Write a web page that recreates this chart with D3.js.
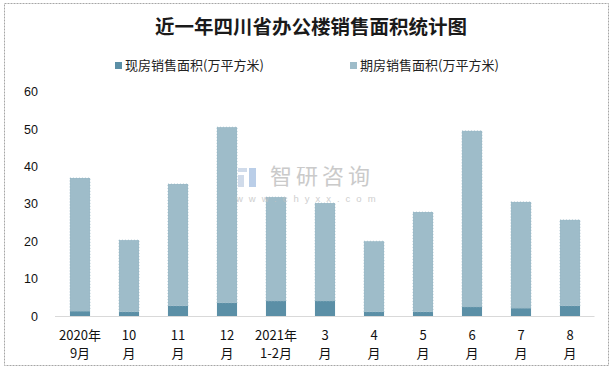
<!DOCTYPE html>
<html>
<head>
<meta charset="utf-8">
<script src="https://cdn.jsdelivr.net/npm/d3@7"></script>
<style>
  body { margin: 0; background: #fff; }
  svg { display: block; font-family: "Liberation Sans", "Noto Sans CJK SC", sans-serif; }
</style>
</head>
<body>
<svg id="svg" width="614" height="370"></svg>
<script>
// chart data
const categories = ["2020年9月", "10月", "11月", "12月", "2021年1-2月", "3月", "4月", "5月", "6月", "7月", "8月"]
const labelLines = [["2020年", "9月"], ["10", "月"], ["11", "月"], ["12", "月"], ["2021年", "1-2月"],
    ["3", "月"], ["4", "月"], ["5", "月"], ["6", "月"], ["7", "月"], ["8", "月"]]
const currentArea = [1.3, 1.1, 2.7, 3.5, 4.0, 4.0, 1.1, 1.1, 2.4, 2.1, 2.7]      // 现房
const futureArea = [35.6, 19.2, 32.6, 47.0, 27.8, 26.2, 18.9, 26.7, 47.1, 28.4, 23.0] // 期房
const yTicks = [0, 10, 20, 30, 40, 50, 60]
const seriesNames = ["现房销售面积(万平方米)", "期房销售面积(万平方米)"]
const colors = ["#5b8fa6", "#9ebcc9"]

const svg = d3.select("#svg")
const cjk = "'Noto Sans CJK SC', sans-serif"

// outer frame
svg.append("rect")
    .attr("x", 4.5).attr("y", 3.5).attr("width", 604).attr("height", 362)
    .attr("fill", "none").attr("stroke", "#a6a6a6").attr("stroke-dasharray", "2,1")

// title
svg.append("text")
    .attr("x", 311).attr("y", 27).attr("dy", "0.35em")
    .attr("text-anchor", "middle")
    .style("font-family", cjk).style("font-weight", "bold").style("font-size", "19.5px")
    .attr("fill", "#1a1a1a")
    .text("近一年四川省办公楼销售面积统计图")

// legend
const legendX = [115, 350]
seriesNames.forEach(function (name, i) {
    svg.append("rect").attr("x", legendX[i]).attr("y", 62).attr("width", 7).attr("height", 7).attr("fill", colors[i])
    svg.append("text")
        .attr("x", legendX[i] + 10).attr("y", 65.5).attr("dy", "0.35em")
        .style("font-family", cjk).style("font-size", "13px").attr("fill", "#222")
        .text(name)
})

// scales
const x = d3.scaleBand().domain(categories).range([55.5, 594.5]).paddingInner(0.59).paddingOuter(0.295)
const y = d3.scaleLinear().domain([0, 60]).range([316, 91.6])

// y tick labels (no axis line, no gridlines)
const yAxis = svg.append("g")
    .attr("transform", "translate(40,0)")
    .call(d3.axisLeft(y).tickValues(yTicks).tickSize(0).tickPadding(2))
yAxis.select(".domain").remove()
yAxis.selectAll("text").style("font-size", "12.5px").style("font-family", "'Liberation Sans', sans-serif").attr("fill", "#111")

// stacked bars
const stacked = d3.stack().keys([0, 1])(categories.map(function (c, i) { return [currentArea[i], futureArea[i]] }))
stacked.forEach(function (layer, k) {
    svg.append("g").selectAll("rect")
        .data(layer)
        .enter().append("rect")
        .attr("x", function (d, i) { return x(categories[i]) })
        .attr("width", x.bandwidth())
        .attr("y", function (d) { return y(d[1]) })
        .attr("height", function (d) { return y(d[0]) - y(d[1]) })
        .attr("fill", colors[k])
        .attr("stroke", k == 1 ? "#8fb0bf" : "none")
        .attr("stroke-width", 0.6)
        .attr("stroke-dasharray", "1,2")
})

// watermark, sits over the bars
const wm = svg.append("g").attr("opacity", 0.8)
wm.append("rect").attr("x", 238).attr("y", 168).attr("width", 9).attr("height", 4).attr("fill", "#c5d3e6")
wm.append("rect").attr("x", 238).attr("y", 175).attr("width", 6).attr("height", 12).attr("fill", "#c5d3e6")
wm.append("rect").attr("x", 249).attr("y", 168).attr("width", 7).attr("height", 19).attr("fill", "#a9c2e3")
wm.append("text").attr("x", 270).attr("y", 176).attr("dy", "0.35em")
    .style("font-family", cjk).style("font-size", "22px").attr("fill", "#bdbdbd").attr("letter-spacing", "4px")
    .text("智研咨询")
wm.append("text").attr("x", 236).attr("y", 199).attr("dy", "0.35em")
    .style("font-family", "'Liberation Sans', sans-serif").style("font-size", "9.5px").attr("fill", "#c4c4c4").attr("letter-spacing", "6px")
    .text("www.chyxx.com")

// x axis line
svg.append("line").attr("x1", 55).attr("x2", 594.5).attr("y1", 316.5).attr("y2", 316.5)
    .attr("stroke", "#d9d9d9").attr("stroke-width", 1)

// x labels, two lines each
const xl = svg.append("g").selectAll("text")
    .data(categories)
    .enter().append("text")
    .attr("text-anchor", "middle")
    .style("font-family", cjk).style("font-size", "13px").attr("fill", "#111")
xl.each(function (c, i) {
    const t = d3.select(this)
    labelLines[i].forEach(function (line, j) {
        t.append("tspan")
            .attr("x", x(c) + x.bandwidth() / 2)
            .attr("y", 335 + j * 18.5)
            .attr("dy", "0.35em")
            .text(line)
    })
})
</script>
</body>
</html>
